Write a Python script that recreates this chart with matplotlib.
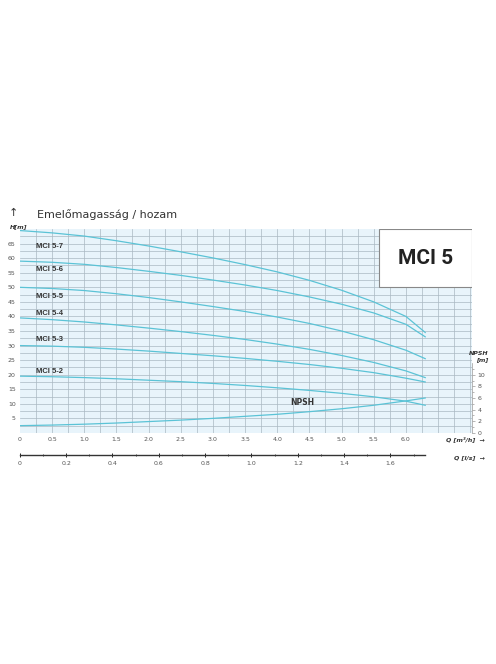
import matplotlib
matplotlib.use("Agg")
import matplotlib.pyplot as plt
from matplotlib.patches import Rectangle
import numpy as np

Q = [0, 0.5, 1, 1.5, 2, 2.5, 3, 3.5, 4, 4.5, 5, 5.5, 6, 6.3]
curves = {
    "MCI 5-7": [69.5, 68.7, 67.6, 66, 64.2, 62.2, 60.1, 57.8, 55.3, 52.4, 49, 45, 40, 34.5],
    "MCI 5-6": [59, 58.6, 57.9, 56.8, 55.5, 54.1, 52.5, 50.8, 48.9, 46.7, 44.2, 41.2, 37.3, 33],
    "MCI 5-5": [50, 49.6, 48.9, 47.8, 46.5, 45, 43.4, 41.7, 39.8, 37.6, 35, 32, 28.4, 25.5],
    "MCI 5-4": [39.5, 38.9, 38.1, 37.1, 36, 34.8, 33.5, 32.1, 30.5, 28.7, 26.6, 24.2, 21.3, 19],
    "MCI 5-3": [30, 29.8, 29.4, 28.8, 28.1, 27.3, 26.5, 25.6, 24.6, 23.5, 22.2, 20.7, 18.8, 17.5],
    "MCI 5-2": [19.5, 19.3, 19, 18.6, 18.1, 17.6, 17, 16.3, 15.5, 14.6, 13.6, 12.4, 10.9, 9.5],
}
label_pos = {"MCI 5-7": 63.5, "MCI 5-6": 55.5, "MCI 5-5": 46.5,
             "MCI 5-4": 40.5, "MCI 5-3": 31.5, "MCI 5-2": 20.5}
npsh = [1.25, 1.35, 1.5, 1.7, 1.95, 2.2, 2.5, 2.85, 3.2, 3.65, 4.15, 4.75, 5.5, 6]
line_c = "#5bc3d6"

fig = plt.figure(figsize=(4.96, 6.64), dpi=100)
ax = fig.add_axes([0.040, 0.348, 0.912, 0.307])
ax.set_facecolor("#e8f4fb")
ax.set_xlim(0, 7.03)
ax.set_ylim(0, 70)
for x in np.arange(0.25, 7.03, 0.25):
    ax.axvline(x, color="#aab8c2", lw=0.5, zorder=0)
for y in np.arange(2.5, 70, 2.5):
    ax.axhline(y, color="#aab8c2", lw=0.5, zorder=0)
for k, v in curves.items():
    ax.plot(Q, v, color=line_c, lw=0.9)
    ax.text(0.25, label_pos[k], k, fontsize=5.5, fontweight="bold", color="#333", family="Liberation Sans")
ax.plot(Q, [2 * n for n in npsh], color=line_c, lw=0.9)
ax.text(4.2, 9.5, "NPSH", fontsize=5.5, fontweight="bold", color="#333")
for s in ax.spines.values():
    s.set_visible(False)
ax.set_xticks(np.arange(0, 6.1, 0.5))
ax.set_xticklabels([f"{v:.1f}" if v else "0" for v in np.arange(0, 6.1, 0.5)], fontsize=4.5, color="#555")
ax.set_yticks(range(5, 70, 5))
ax.set_yticklabels([str(v) for v in range(5, 70, 5)], fontsize=4.5, color="#555")
ax.tick_params(length=0, pad=3)
ax2 = ax.twinx()
ax2.set_ylim(0, 35)
ax2.set_yticks(range(0, 11, 2))
ax2.set_yticklabels([str(v) for v in range(0, 11, 2)], fontsize=4.5, color="#555")
ax2.set_yticks(range(1, 12, 2), minor=True)
ax2.tick_params(length=2, width=0.5, color="#999", pad=2)
ax2.tick_params(which="minor", length=1.5, width=0.5, color="#999")
for s in ax2.spines.values():
    s.set_visible(False)
ax2.spines["right"].set_visible(True)
ax2.spines["right"].set_bounds(0, 12)
ax2.spines["right"].set_color("#999")
ax2.spines["right"].set_linewidth(0.5)
fig.text(0.985, 0.463, "NPSH\n[m]", fontsize=4.5, style="italic", fontweight="bold", ha="right", va="center", color="#333")
ax.add_patch(Rectangle((0.793, 0.715), 0.207, 0.285, transform=ax.transAxes, fc="white", ec="#888", lw=0.8, zorder=3))
ax.text(0.8965, 0.855, "MCI 5", transform=ax.transAxes, fontsize=15, fontweight="bold", ha="center", va="center",
        family="Roboto", zorder=4, color="#222")
fig.text(0.075, 0.677, "Emelőmagasság / hozam", fontsize=8, color="#333", va="center")
fig.text(0.02, 0.657, "H[m]", fontsize=4.5, style="italic", fontweight="bold", color="#333")
fig.text(0.027, 0.672, "↑", fontsize=8, ha="center", va="bottom", color="#333")
fig.text(0.9, 0.339, "Q [m³/h]  →", fontsize=4.5, style="italic", fontweight="bold", ha="left", va="center", color="#333")
ax3 = fig.add_axes([0.040, 0.315, 0.912, 0.001])
ax3.set_xlim(0, 7.03 / 3.6)
ax3.set_yticks([])
for s in ["top", "left", "right"]:
    ax3.spines[s].set_visible(False)
ax3.spines["bottom"].set_bounds(0, 1.75)
ax3.spines["bottom"].set_color("#333")
ax3.spines["bottom"].set_linewidth(1.0)
ax3.set_xticks(np.arange(0, 1.61, 0.2))
ax3.set_xticklabels(["0"] + [f"{v:.1f}" for v in np.arange(0.2, 1.61, 0.2)], fontsize=4.5, color="#555")
ax3.set_xticks(np.arange(0.1, 1.76, 0.1), minor=True)
ax3.tick_params(length=2.5, width=0.6, pad=3, direction="inout")
ax3.tick_params(which="minor", length=2, width=0.5, direction="inout")
fig.text(0.915, 0.315, "Q [l/s]  →", fontsize=4.5, style="italic", fontweight="bold", ha="left", va="top", color="#333")
fig.savefig("out.png", dpi=100, facecolor="white")
